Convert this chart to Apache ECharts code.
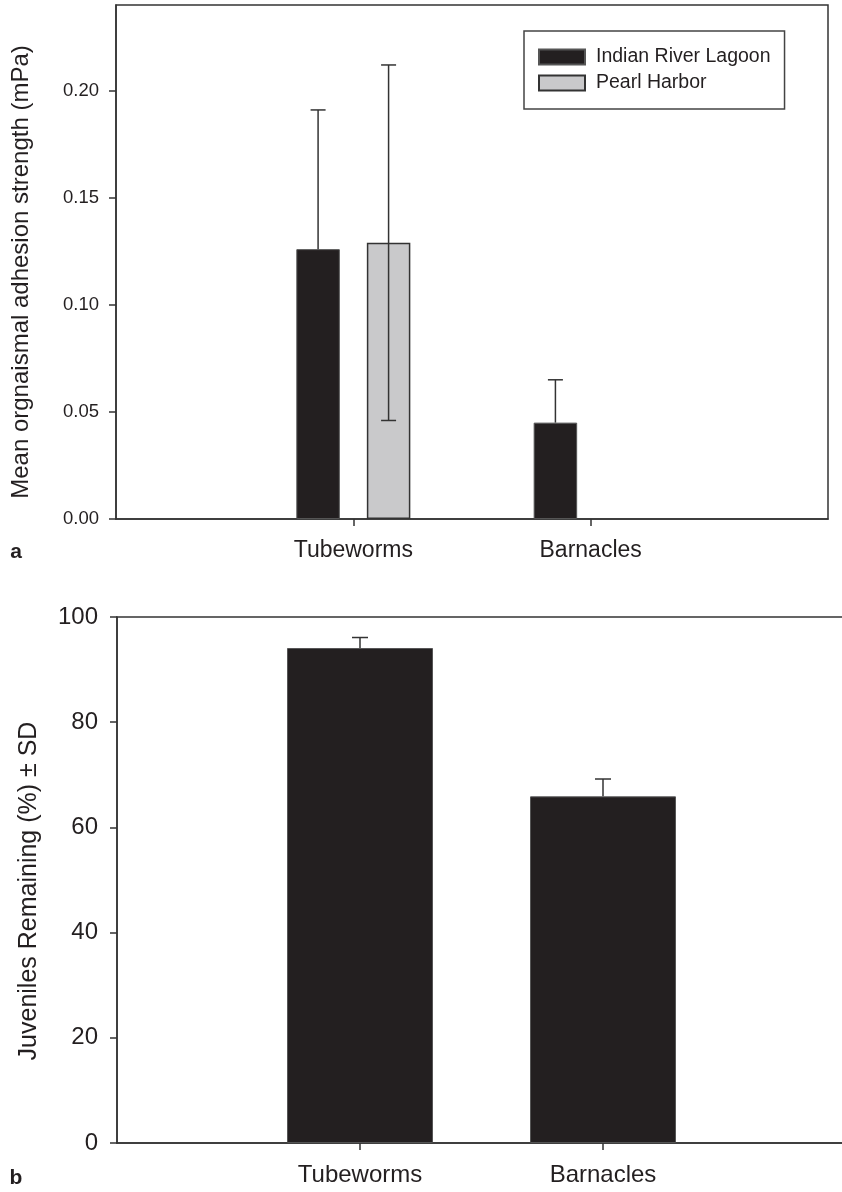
<!DOCTYPE html>
<html>
<head>
<meta charset="utf-8">
<script src="https://cdn.jsdelivr.net/npm/echarts@6/dist/echarts.min.js"></script>
<style>
html,body{margin:0;padding:0;background:#fff;}
#chart{width:842px;height:1192px;}
</style>
</head>
<body>
<div id="chart"></div>
<script>
// ---- data ----
const categories = ['', 'Tubeworms', 'Barnacles', ''];
const seriesNames = ['Indian River Lagoon', 'Pearl Harbor'];
const adhesionIRL = [null, 0.126, 0.045, null];
const adhesionIRLsd = [null, 0.065, 0.020, null];
const adhesionPH = [null, 0.129, null, null];
const adhesionPHsd = [null, 0.083, null, null];
const adhesionTicks = [0, 0.05, 0.10, 0.15, 0.20];
const juveniles = [null, 94.1, 65.9, null];
const juvenilesSD = [null, 2.0, 3.3, null];
const juvenileTicks = [0, 20, 40, 60, 80, 100];
const titleTop = 'Mean orgnaismal adhesion strength (mPa)';
const titleBottom = 'Juveniles Remaining (%) \u00B1 SD';

// ---- styles ----
const FONT = '"Liberation Sans", Arial, Helvetica, sans-serif';
const TXT = '#231f20';
const AX = '#333333';
const BLACK = '#231f20';
const GRAY = '#c9c9cb';
const topBarW = 43.5, topGap = 27;
const botBarW = 146;

// dir: -1 left bar, 1 right bar, 0 single bar; lower: 1 draw lower whisker
function errData(means, sds, dir, lower) {
  const out = [];
  means.forEach((m, i) => { if (m != null && sds[i] != null) out.push([i, m, sds[i], dir, lower]); });
  return out;
}
function errRender(halfSpacing, capW) {
  return function (params, api) {
    const idx = api.value(0), m = api.value(1), sd = api.value(2), dir = api.value(3), lower = api.value(4);
    const pMid = api.coord([idx, m]);
    const pHi = api.coord([idx, m + sd]);
    const pLo = api.coord([idx, m - sd]);
    const x = pHi[0] + dir * halfSpacing;
    const st = { stroke: AX, lineWidth: 1.5 };
    const yEnd = lower ? pLo[1] : pMid[1];
    const children = [
      { type: 'line', shape: { x1: x, y1: pHi[1], x2: x, y2: yEnd }, style: st },
      { type: 'line', shape: { x1: x - capW / 2, y1: pHi[1], x2: x + capW / 2, y2: pHi[1] }, style: st }
    ];
    if (lower) children.push({ type: 'line', shape: { x1: x - capW / 2, y1: pLo[1], x2: x + capW / 2, y2: pLo[1] }, style: st });
    return { type: 'group', children: children };
  };
}

const chart = echarts.init(document.getElementById('chart'), null, { renderer: 'canvas' });
const option = {
  animation: false,
  backgroundColor: '#fff',
  textStyle: { fontFamily: FONT, color: TXT },
  grid: [
    { left: 116, top: 5, width: 712, height: 514, show: true, borderColor: AX, borderWidth: 1.5, backgroundColor: 'transparent', outerBoundsMode: 'none', containLabel: false },
    { left: 117, top: 617, width: 729, height: 526, show: true, borderColor: AX, borderWidth: 1.5, backgroundColor: 'transparent', outerBoundsMode: 'none', containLabel: false }
  ],
  legend: {
    data: seriesNames,
    orient: 'vertical',
    left: 524, top: 31,
    icon: 'rect',
    itemWidth: 46, itemHeight: 15, itemGap: 6,
    padding: [16, 14, 16, 14],
    borderColor: '#444', borderWidth: 1.5,
    textStyle: { fontFamily: FONT, fontSize: 19.5, color: TXT, padding: [0, 0, 0, 6] }
  },
  xAxis: [
    {
      gridIndex: 0, type: 'category', data: categories, boundaryGap: false,
      axisLine: { lineStyle: { color: AX, width: 1.5 } },
      axisTick: { length: 7, lineStyle: { color: AX, width: 1.5 }, interval: (i, v) => v !== '' },
      axisLabel: { interval: 0, fontSize: 23, margin: 20, color: TXT, fontFamily: FONT },
      splitLine: { show: false }
    },
    {
      gridIndex: 1, type: 'category', data: categories, boundaryGap: false,
      axisLine: { lineStyle: { color: AX, width: 1.5 } },
      axisTick: { length: 7, lineStyle: { color: AX, width: 1.5 }, interval: (i, v) => v !== '' },
      axisLabel: { interval: 0, fontSize: 24, margin: 20, color: TXT, fontFamily: FONT },
      splitLine: { show: false }
    }
  ],
  yAxis: [
    {
      gridIndex: 0, type: 'value', min: 0, max: 0.24, interval: 0.05,
      axisLine: { show: true, lineStyle: { color: AX, width: 1.5 } },
      axisTick: { show: true, length: 7, lineStyle: { color: AX, width: 1.5 }, customValues: adhesionTicks },
      axisLabel: { fontSize: 18.5, margin: 17, color: TXT, fontFamily: FONT, customValues: adhesionTicks, formatter: v => v.toFixed(2) },
      splitLine: { show: false }
    },
    {
      gridIndex: 1, type: 'value', min: 0, max: 100, interval: 20,
      axisLine: { show: true, lineStyle: { color: AX, width: 1.5 } },
      axisTick: { show: true, length: 7, lineStyle: { color: AX, width: 1.5 }, customValues: juvenileTicks },
      axisLabel: { fontSize: 24, margin: 19, color: TXT, fontFamily: FONT, customValues: juvenileTicks },
      splitLine: { show: false }
    }
  ],
  series: [
    {
      name: seriesNames[0], type: 'bar', xAxisIndex: 0, yAxisIndex: 0,
      data: adhesionIRL, barWidth: topBarW, barGap: (topGap / topBarW * 100).toFixed(1) + '%',
      itemStyle: { color: BLACK, borderColor: '#555', borderWidth: 1 }
    },
    {
      name: seriesNames[1], type: 'bar', xAxisIndex: 0, yAxisIndex: 0,
      data: adhesionPH, barWidth: topBarW,
      itemStyle: { color: GRAY, borderColor: '#333', borderWidth: 1.5 }
    },
    {
      name: 'err-top', type: 'custom', xAxisIndex: 0, yAxisIndex: 0, z: 5, clip: false,
      renderItem: errRender((topBarW + topGap) / 2, 15),
      data: errData(adhesionIRL, adhesionIRLsd, -1, 0).concat(errData(adhesionPH, adhesionPHsd, 1, 1)),
      silent: true
    },
    {
      name: 'Juveniles', type: 'bar', xAxisIndex: 1, yAxisIndex: 1,
      data: juveniles, barWidth: botBarW,
      itemStyle: { color: BLACK, borderColor: '#555', borderWidth: 1 }
    },
    {
      name: 'err-bottom', type: 'custom', xAxisIndex: 1, yAxisIndex: 1, z: 5, clip: false,
      renderItem: errRender(0, 16),
      data: errData(juveniles, juvenilesSD, 0, 0),
      silent: true
    }
  ],
  graphic: [
    { type: 'text', x: 21, y: 272, rotation: Math.PI / 2,
      style: { text: titleTop, font: '24px ' + FONT, fill: TXT, textAlign: 'center', textVerticalAlign: 'middle' } },
    { type: 'text', x: 29, y: 891, rotation: Math.PI / 2,
      style: { text: titleBottom, font: '25px ' + FONT, fill: TXT, textAlign: 'center', textVerticalAlign: 'middle' } },
    { type: 'text', x: 16, y: 552,
      style: { text: 'a', font: 'bold 21px ' + FONT, fill: TXT, textAlign: 'center', textVerticalAlign: 'middle' } },
    { type: 'text', x: 16, y: 1178,
      style: { text: 'b', font: 'bold 21px ' + FONT, fill: TXT, textAlign: 'center', textVerticalAlign: 'middle' } }
  ]
};
chart.setOption(option);
</script>
</body>
</html>
